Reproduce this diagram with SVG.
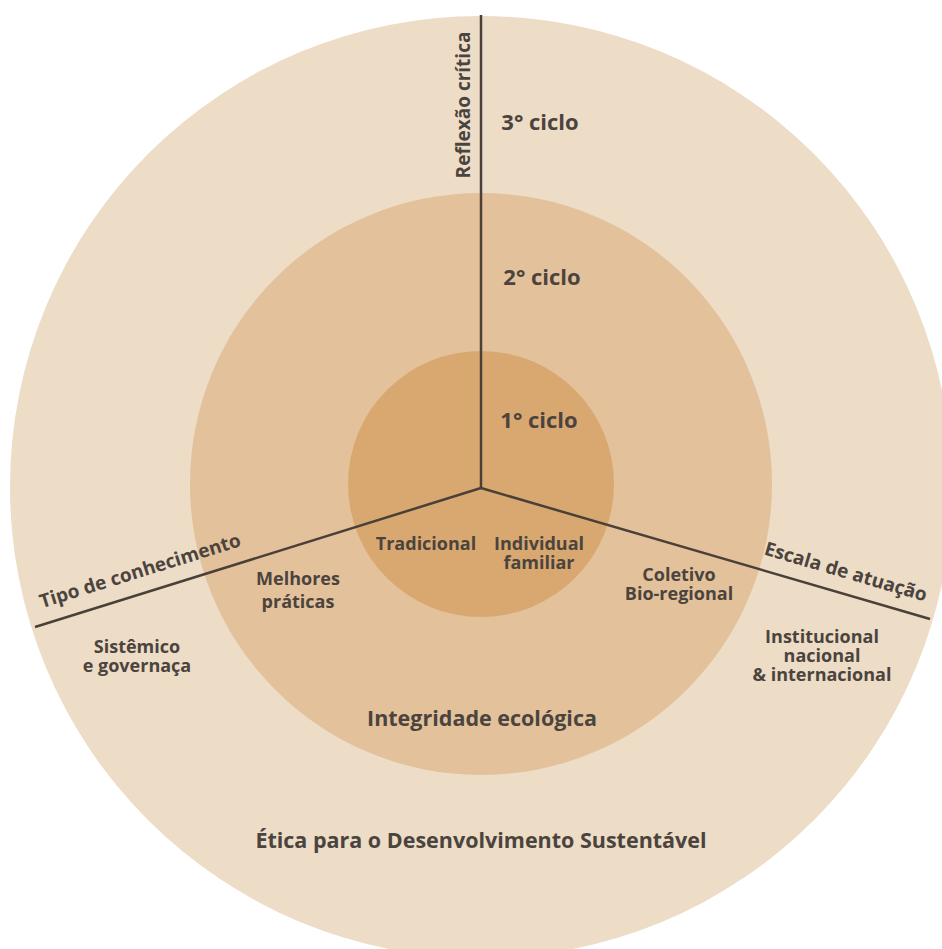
<svg xmlns="http://www.w3.org/2000/svg" width="942" height="949" viewBox="0 0 942 949">
<style>
text{font-family:"Open Sans","Noto Sans","Liberation Sans",sans-serif;font-weight:700;fill:#4b443e;text-anchor:middle}
.big{font-size:22px}
.big2{font-size:21.5px}
.mid{font-size:18px}
.lbl{font-size:19px}
.ln{stroke:#4a4039;stroke-width:2.5;fill:none}
</style>
<rect width="942" height="949" fill="#ffffff"/>
<g id="ring-outer"><circle cx="481" cy="487" r="471" fill="#eddcc6"/></g>
<g id="ring-middle"><circle cx="481" cy="484" r="291" fill="#e3c19a"/></g>
<g id="ring-inner"><circle cx="481" cy="484" r="133" fill="#d9a870"/></g>
<g id="connectors">
<line class="ln" x1="481" y1="488" x2="481" y2="15"/>
<line class="ln" x1="481" y1="488" x2="35" y2="627"/>
<line class="ln" x1="481" y1="488" x2="930" y2="619"/>
</g>
<g id="axis-reflexao"><text class="lbl" transform="translate(470 105) rotate(-90)">Reflexão crítica</text></g>
<g id="axis-tipo"><text class="lbl" transform="translate(142 577) rotate(-17.3)">Tipo de conhecimento</text></g>
<g id="axis-escala"><text class="lbl" transform="translate(844 578) rotate(16.3)">Escala de atuação</text></g>
<g id="c3"><text class="big" x="540" y="130">3° ciclo</text></g>
<g id="c2"><text class="big" x="542" y="285">2° ciclo</text></g>
<g id="c1"><text class="big" x="539" y="428">1° ciclo</text></g>
<g id="tradicional"><text class="mid" x="426" y="550">Tradicional</text></g>
<g id="individual"><text class="mid" x="539" y="550">Individual</text><text class="mid" x="539" y="569">familiar</text></g>
<g id="melhores"><text class="mid" x="298" y="585">Melhores</text><text class="mid" x="298" y="608">práticas</text></g>
<g id="coletivo"><text class="mid" x="679" y="581">Coletivo</text><text class="mid" x="679" y="600">Bio-regional</text></g>
<g id="sistemico"><text class="mid" x="137" y="653">Sistêmico</text><text class="mid" x="137" y="672">e governaça</text></g>
<g id="institucional"><text class="mid" x="822" y="643">Institucional</text><text class="mid" x="822" y="662">nacional</text><text class="mid" x="822" y="681">&amp; internacional</text></g>
<g id="integridade"><text class="big2" x="482" y="726">Integridade ecológica</text></g>
<g id="etica"><text class="big2" x="481" y="848">Ética para o Desenvolvimento Sustentável</text></g>
</svg>
